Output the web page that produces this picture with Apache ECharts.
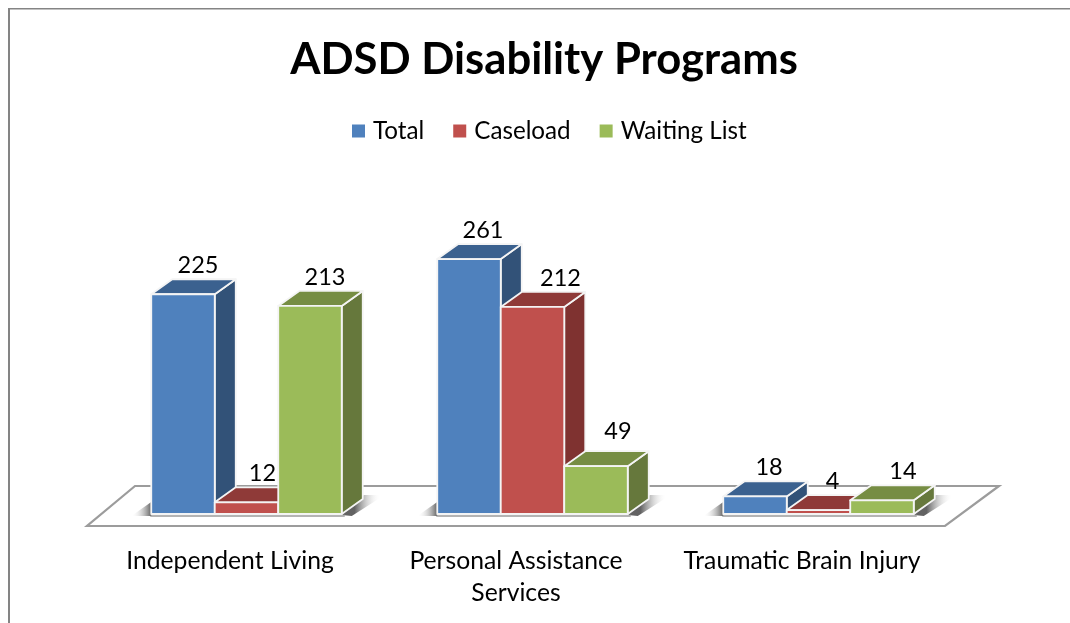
<!DOCTYPE html>
<html>
<head>
<meta charset="utf-8">
<style>html,body{margin:0;padding:0;background:#fff}#c{width:1070px;height:623px}</style>
<script src="https://cdn.jsdelivr.net/npm/echarts@6/dist/echarts.min.js"></script>
</head>
<body>
<div id="c"></div>
<script>
const categories = ['Independent Living', 'Personal Assistance\nServices', 'Traumatic Brain Injury'];
const total = [225, 261, 18];
const caseload = [12, 212, 4];
const waitingList = [213, 49, 14];

const FONT = 'Lato, "Open Sans", sans-serif';
const DX = 21, DY = 15, SHIFT = 16.5, BAR_RATIO = 0.222;
const FLOOR_FRONT = 12, FLOOR_BACK = 28, FLOOR_SKEW = 54;
const LABEL_DX = 14, LABEL_DY = -29;
const NUDGE = [
  [[1, 0], [0, 0], [0, 0]],
  [[2, 0], [14, 0], [0, 0]],
  [[1, 0], [8, -6], [7, 0]]
];

function bar3d(pos, front, top, side) {
  return function (params, api) {
    const w = api.size([1, 0])[0] * BAR_RATIO;
    const left = api.coord([api.value(0), 0])[0] + SHIFT + (pos - 1.5) * w;
    const y0 = api.coord([0, 0])[1];
    const y1 = api.coord([0, api.value(1)])[1];
    const r = left + w;
    const nudge = NUDGE[pos][params.dataIndex];
    const edge = { stroke: '#f4f4f4', lineWidth: 1.8, lineJoin: 'round' };
    const poly = (pts, fill) => ({ type: 'polygon', shape: { points: pts }, style: Object.assign({ fill }, edge) });
    return {
      type: 'group',
      children: [
        poly([[r, y1], [r + DX, y1 - DY], [r + DX, y0 - DY], [r, y0]], side),
        poly([[left, y1], [left + DX, y1 - DY], [r + DX, y1 - DY], [r, y1]], top),
        poly([[left, y1], [r, y1], [r, y0], [left, y0]], front),
        {
          type: 'text',
          style: {
            text: String(api.value(1)),
            x: (left + r) / 2 + LABEL_DX + nudge[0], y: y1 + LABEL_DY + nudge[1],
            fill: '#000000', font: '23.5px ' + FONT, align: 'center', verticalAlign: 'middle'
          }
        }
      ]
    };
  };
}

function floorItem(params) {
  const c = params.coordSys;
  const x0 = c.x, x1 = c.x + c.width, yb = c.y + c.height;
  return {
    type: 'polygon',
    shape: { points: [[x0, yb + FLOOR_FRONT], [x1, yb + FLOOR_FRONT], [x1 + FLOOR_SKEW, yb - FLOOR_BACK], [x0 + FLOOR_SKEW - 6, yb - FLOOR_BACK]] },
    style: { fill: '#ffffff', stroke: '#9c9c9c', lineWidth: 2.2 }
  };
}

function shadowItem(params, api) {
  const w = api.size([1, 0])[0] * BAR_RATIO;
  const cx = api.coord([api.value(0), 0])[0] + SHIFT;
  const yb = api.coord([0, 0])[1];
  const l = cx - 1.5 * w, r = cx + 1.5 * w;
  const leftFill = {
    type: 'linear', x: 1, y: 0, x2: 0, y2: 0,
    colorStops: [{ offset: 0, color: 'rgba(90,90,90,0.95)' }, { offset: 1, color: 'rgba(255,255,255,0)' }]
  };
  const rightFill = {
    type: 'linear', x: 0.3, y: 0.6, x2: 0.9, y2: 0.6,
    colorStops: [{ offset: 0, color: 'rgba(90,90,90,0.95)' }, { offset: 1, color: 'rgba(255,255,255,0)' }]
  };
  return {
    type: 'group',
    children: [
      { type: 'polygon', shape: { points: [[l, yb - 12], [l, yb + 2], [l - 20, yb + 2]] }, style: { fill: leftFill } },
      { type: 'polygon', shape: { points: [[r, yb + 1], [r + DX + 1, yb - 19], [r + DX + 22, yb - 19], [r + 10, yb + 2]] }, style: { fill: rightFill } },
      { type: 'rect', shape: { x: l - 1, y: yb, width: r - l + 4, height: 3 }, style: { fill: 'rgba(130,130,130,0.6)' } }
    ]
  };
}

const chart = echarts.init(document.getElementById('c'), null, { renderer: 'canvas' });
chart.setOption({
  animation: false,
  backgroundColor: '#ffffff',
  title: {
    text: 'ADSD Disability Programs', left: 539, top: 33, textAlign: 'center',
    textStyle: { fontFamily: FONT, fontWeight: 'bold', fontSize: 43.6, color: '#000000' }
  },
  legend: {
    left: 347, top: 114, icon: 'rect', itemWidth: 13, itemHeight: 13, itemGap: 29,
    data: ['Total', 'Caseload', 'Waiting List'],
    textStyle: { fontFamily: FONT, fontSize: 24.2, color: '#000000', padding: [0, 0, 0, 3] }
  },
  grid: { left: 87, width: 858, top: 221, height: 293, containLabel: false },
  xAxis: {
    type: 'category', data: categories,
    axisLine: { show: false }, axisTick: { show: false }, splitLine: { show: false },
    axisLabel: { margin: 31, fontFamily: FONT, fontSize: 24.7, lineHeight: 32, color: '#000000', interval: 0 }
  },
  yAxis: { type: 'value', min: 0, max: 300, show: false },
  graphic: [
    { type: 'rect', shape: { x: 8, y: 8, width: 1062, height: 1.5 }, style: { fill: '#848484' }, silent: true },
    { type: 'rect', shape: { x: 8, y: 8, width: 2, height: 615 }, style: { fill: '#848484' }, silent: true }
  ],
  series: [
    { type: 'custom', name: 'floor', silent: true, clip: false, z: 1, data: [[0, 0]], encode: { x: 0, y: 1 }, renderItem: floorItem },
    { type: 'custom', name: 'shadow', silent: true, clip: false, z: 2, data: categories.map((c, i) => [i, 0]), encode: { x: 0, y: 1 }, renderItem: shadowItem },
    { type: 'custom', name: 'Total', clip: false, z: 3, itemStyle: { color: '#4f81bd' }, encode: { x: 0, y: 1 }, data: total.map((v, i) => [i, v]), renderItem: bar3d(0, '#4f81bd', '#3b618f', '#325278') },
    { type: 'custom', name: 'Caseload', clip: false, z: 4, itemStyle: { color: '#c0504d' }, encode: { x: 0, y: 1 }, data: caseload.map((v, i) => [i, v]), renderItem: bar3d(1, '#c0504d', '#8f3a38', '#7f3230') },
    { type: 'custom', name: 'Waiting List', clip: false, z: 5, itemStyle: { color: '#9bbb59' }, encode: { x: 0, y: 1 }, data: waitingList.map((v, i) => [i, v]), renderItem: bar3d(2, '#9bbb59', '#768d43', '#66783c') }
  ]
});
</script>
</body>
</html>
